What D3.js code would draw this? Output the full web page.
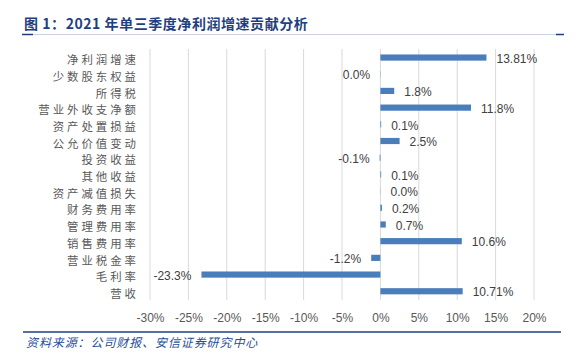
<!DOCTYPE html>
<html><head><meta charset="utf-8">
<script src="https://cdn.jsdelivr.net/npm/d3@7"></script>
<style>
html,body{margin:0;padding:0;background:#fff;}
svg{display:block;}
</style></head>
<body>
<svg id="c" width="578" height="357"></svg>
<script>
const titleText = "图 1：2021 年单三季度净利润增速贡献分析";
const sourceText = "资料来源：公司财报、安信证券研究中心";
const categories = ["净利润增速","少数股东权益","所得税","营业外收支净额","资产处置损益","公允价值变动","投资收益","其他收益","资产减值损失","财务费用率","管理费用率","销售费用率","营业税金率","毛利率","营收"];
const values = [13.81,-0.03,1.8,11.8,0.1,2.5,-0.1,0.1,0.02,0.2,0.7,10.6,-1.2,-23.3,10.71];
const valueLabels = ["13.81%","0.0%","1.8%","11.8%","0.1%","2.5%","-0.1%","0.1%","0.0%","0.2%","0.7%","10.6%","-1.2%","-23.3%","10.71%"];
const tickValues = [-30,-25,-20,-15,-10,-5,0,5,10,15,20];

const svg = d3.select("#c");

// title
svg.append("text").attr("x",24).attr("y",29)
  .attr("font-family","'Noto Sans CJK SC', sans-serif").attr("font-weight","bold")
  .attr("font-size",14).attr("letter-spacing",0.55).attr("fill","#1f3f7f").text(titleText);
svg.append("line").attr("x1",22).attr("x2",564).attr("y1",34.5).attr("y2",34.5)
  .attr("stroke","#cdd2e2").attr("stroke-width",1);
svg.append("line").attr("x1",22).attr("x2",33).attr("y1",34.5).attr("y2",34.5)
  .attr("stroke","#1f3f7f").attr("stroke-width",1.5);
svg.append("line").attr("x1",556).attr("x2",564).attr("y1",34.5).attr("y2",34.5)
  .attr("stroke","#1f3f7f").attr("stroke-width",1.5);

// plot
const x = d3.scaleLinear().domain([-30,20]).range([150,534]);
const y = d3.scaleBand().domain(categories).range([49.2,299.6]).paddingInner(0.63).paddingOuter(0.315);

const g = svg.append("g");
g.selectAll("line.grid").data(tickValues).enter().append("line")
  .attr("x1",d=>x(d)).attr("x2",d=>x(d)).attr("y1",49).attr("y2",300)
  .attr("stroke","#d9d9d9").attr("stroke-width",1);

g.selectAll("rect.bar").data(values).enter().append("rect")
  .attr("x",d=>x(Math.min(0,d))).attr("width",d=>Math.abs(x(d)-x(0)))
  .attr("y",(d,i)=>y(categories[i])).attr("height",y.bandwidth())
  .attr("fill","#4a7ebb");

g.selectAll("text.val").data(values).enter().append("text")
  .attr("x",d=> d>=0 ? x(d)+10 : x(d)-10)
  .attr("y",(d,i)=>y(categories[i])+y.bandwidth()/2+1)
  .attr("dy","0.35em")
  .attr("text-anchor",d=> d>=0 ? "start":"end")
  .attr("font-family","'Liberation Sans', Arial, sans-serif").attr("font-size",12)
  .attr("fill","#404040").text((d,i)=>valueLabels[i]);

// category axis labels
const yAxis = d3.axisLeft(y).tickSize(0).tickPadding(0);
const ya = svg.append("g").attr("transform","translate(139,3)").call(yAxis);
ya.select(".domain").remove();
ya.selectAll("text").attr("font-family","'Noto Sans CJK SC', sans-serif").attr("font-size",11.4)
  .attr("letter-spacing",3).attr("fill","#595959");

// x axis labels
const xAxis = d3.axisBottom(x).tickValues(tickValues).tickSize(0).tickPadding(0).tickFormat(d=>d+"%");
const xa = svg.append("g").attr("transform","translate(0,313)").call(xAxis);
xa.select(".domain").remove();
xa.selectAll("text").attr("font-family","'Liberation Sans', Arial, sans-serif").attr("font-size",12)
  .attr("fill","#595959");

// bottom rule & source
svg.append("line").attr("x1",23).attr("x2",561).attr("y1",332).attr("y2",332)
  .attr("stroke","#1f3f7f").attr("stroke-width",1.5);
svg.append("text").attr("x",26).attr("y",346.5)
  .attr("font-family","'Noto Sans CJK SC', sans-serif").attr("font-style","italic")
  .attr("font-size",12).attr("letter-spacing",0.9).attr("fill","#1f4e9a").text(sourceText);
</script>
</body></html>
